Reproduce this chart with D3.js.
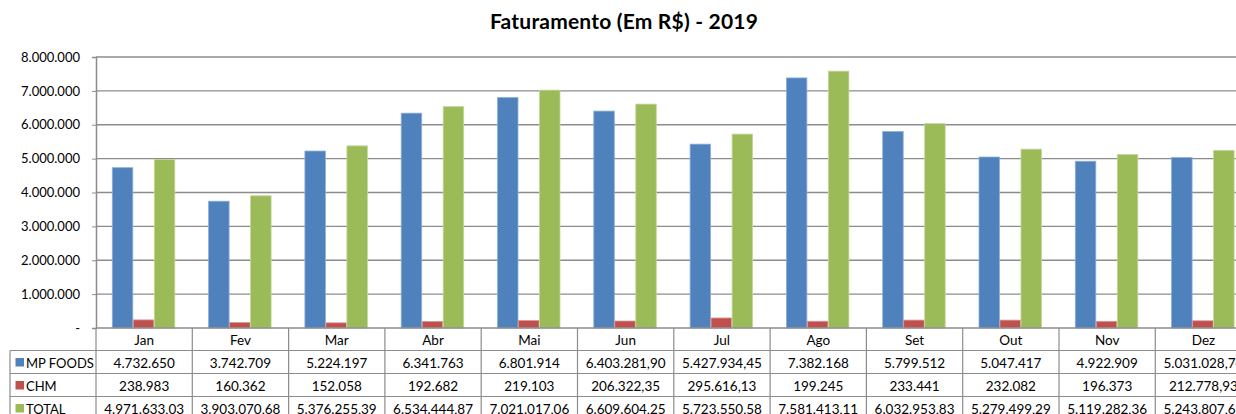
<!DOCTYPE html>
<html>
<head>
<meta charset="utf-8">
<script src="https://cdn.jsdelivr.net/npm/d3@7"></script>
<style>
  body { margin: 0; background: #fff; }
  svg { display: block; font-family: Lato, "Open Sans", sans-serif; }
</style>
</head>
<body>
<div id="chart"></div>
<script>
// data
var months = ["Jan", "Fev", "Mar", "Abr", "Mai", "Jun", "Jul", "Ago", "Set", "Out", "Nov", "Dez"];
var seriesNames = ["MP FOODS", "CHM", "TOTAL"];
var mpFoods = [4732650, 3742709, 5224197, 6341763, 6801914, 6403281.90, 5427934.45, 7382168, 5799512, 5047417, 4922909, 5031028.74];
var chm = [238983, 160362, 152058, 192682, 219103, 206322.35, 295616.13, 199245, 233441, 232082, 196373, 212778.93];
var total = [4971633.03, 3903070.68, 5376255.39, 6534444.87, 7021017.06, 6609604.25, 5723550.58, 7581413.11, 6032953.83, 5279499.29, 5119282.36, 5243807.67];
var yTicks = [0, 1000000, 2000000, 3000000, 4000000, 5000000, 6000000, 7000000, 8000000];
var colors = ["#4f81bd", "#c0504d", "#9bbb59"];
var strokes = ["#8eaed6", "#d99694", "#c2d69b"];

var seriesValues = [mpFoods, chm, total];

var W = 1236, H = 414;
var plotL = 96, plotT = 57, plotB = 328;
var catW = 96.3;
var rowH = 23;

var svg = d3.select("#chart").append("svg")
  .attr("width", W)
  .attr("height", H);

var ptBR = d3.formatLocale({decimal: ",", thousands: ".", grouping: [3], currency: ["R$", ""]});
var fInt = ptBR.format(",.0f"), fDec = ptBR.format(",.2f");
function fmt(v) { return Number.isInteger(v) ? fInt(v) : fDec(v); }

// scales
var x = d3.scaleBand()
  .domain(months)
  .range([plotL, plotL + catW * months.length]);

var xs = d3.scaleBand()
  .domain(seriesNames)
  .range([16.3, 16.3 + 63]);

var y = d3.scaleLinear()
  .domain([0, 8000000])
  .range([plotB, plotT]);

// title
svg.append("text")
  .attr("x", 624)
  .attr("y", 29)
  .attr("text-anchor", "middle")
  .style("font-size", "21px")
  .style("font-weight", "bold")
  .style("letter-spacing", "0.2px")
  .text("Faturamento (Em R$) - 2019");

// gridlines
svg.append("g")
  .selectAll("line")
  .data(yTicks.slice(1))
  .join("line")
  .attr("x1", plotL)
  .attr("x2", W)
  .attr("y1", d => y(d))
  .attr("y2", d => y(d))
  .attr("stroke", "#8c8c8c")
  .attr("stroke-width", 1.3);

// y axis
var yAxis = svg.append("g")
  .attr("transform", "translate(" + plotL + ",0)")
  .call(d3.axisLeft(y).tickValues(yTicks).tickSize(4).tickPadding(12)
    .tickFormat(d => d === 0 ? "-" : fInt(d)));
yAxis.select(".domain").attr("stroke", "#8c8c8c").attr("stroke-width", 1.5);
yAxis.selectAll(".tick line").attr("stroke", "#8c8c8c");
yAxis.selectAll("text")
  .style("font-size", "13px")
  .style("font-family", "Lato, sans-serif")
  .attr("fill", "#000");

// bars
var groups = svg.append("g")
  .selectAll("g")
  .data(seriesNames)
  .join("g")
  .attr("fill", (d, i) => colors[i])
  .attr("stroke", (d, i) => strokes[i]);

groups.selectAll("rect")
  .data((d, i) => seriesValues[i].map((v, j) => ({s: d, m: months[j], v: v})))
  .join("rect")
  .attr("x", d => x(d.m) + xs(d.s))
  .attr("y", d => y(d.v))
  .attr("width", xs.bandwidth() - 0.5)
  .attr("height", d => y(0) - y(d.v))
  .attr("stroke-width", 0.8);

// data table
var table = svg.append("g");
var tableL = 10;
var tableB = plotB + rowH * 4;

// horizontal lines
table.selectAll("line.h")
  .data([0, 1, 2, 3])
  .join("line")
  .attr("class", "h")
  .attr("x1", d => d === 0 ? plotL : tableL)
  .attr("x2", W)
  .attr("y1", d => plotB + rowH * d - (d ? 0.5 : 0))
  .attr("y2", d => plotB + rowH * d - (d ? 0.5 : 0))
  .attr("stroke", "#8c8c8c")
  .attr("stroke-width", d => d === 0 ? 1.5 : 1.2);

// vertical lines
table.selectAll("line.v")
  .data(d3.range(months.length + 1))
  .join("line")
  .attr("class", "v")
  .attr("x1", d => plotL + catW * d)
  .attr("x2", d => plotL + catW * d)
  .attr("y1", plotB)
  .attr("y2", tableB)
  .attr("stroke", "#8c8c8c")
  .attr("stroke-width", 1.2);

table.append("line")
  .attr("x1", tableL).attr("x2", tableL)
  .attr("y1", plotB + rowH - 0.5).attr("y2", tableB)
  .attr("stroke", "#8c8c8c")
  .attr("stroke-width", 1.2);

// month header
table.selectAll("text.m")
  .data(months)
  .join("text")
  .attr("class", "m")
  .attr("x", d => x(d) + catW / 2)
  .attr("y", plotB + rowH / 2 + 5)
  .attr("text-anchor", "middle")
  .style("font-size", "13.5px")
  .text(d => d);

// series rows
seriesNames.forEach(function(name, i) {
  var ry = plotB + rowH * (i + 1);
  table.append("rect")
    .attr("x", 15.5)
    .attr("y", ry + rowH / 2 - 4.5)
    .attr("width", 8.5)
    .attr("height", 8.5)
    .attr("fill", colors[i]);
  table.append("text")
    .attr("x", 26)
    .attr("y", ry + rowH / 2 + 5)
    .style("font-size", "13px")
    .text(name);
  table.selectAll("text.r" + i)
    .data(seriesValues[i])
    .join("text")
    .attr("class", "r" + i)
    .attr("x", (d, j) => x(months[j]) + catW / 2)
    .attr("y", ry + rowH / 2 + 5)
    .attr("text-anchor", "middle")
    .style("font-size", "13.5px")
    .text(d => fmt(d));
});
</script>
</body>
</html>
